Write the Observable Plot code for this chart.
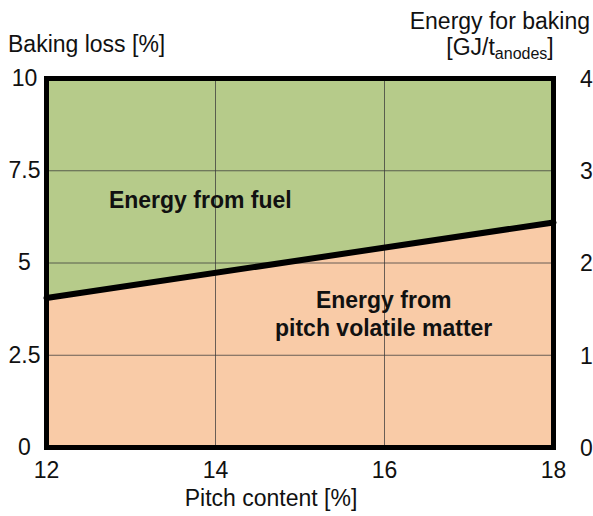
<!DOCTYPE html>
<html>
<head>
<meta charset="utf-8">
<script src="https://cdn.jsdelivr.net/npm/d3@7"></script>
<script src="https://cdn.jsdelivr.net/npm/@observablehq/plot@0.6"></script>
<style>
  html, body { margin: 0; padding: 0; background: #fff; }
  svg { display: block; }
</style>
</head>
<body>
<div id="chart"></div>
<script>
// Data
const pitchContent = [12, 18];            // x, Pitch content [%]
const bakingLoss = [4.05, 6.1];           // y, boundary line, Baking loss [%]
const xTicks = [12, 14, 16, 18];
const yTicks = [0, 2.5, 5, 7.5, 10];
const yTickLabels = ["0", "2.5", "5", "7.5", "10"];
const rightTicks = [0, 1, 2, 3, 4];       // Energy for baking [GJ/t_anodes]
const energyMax = 4;
const lossMax = 10;
const gridX = [14, 16];
const gridY = [2.5, 5, 7.5];

const rows = pitchContent.map((x, i) => ({x, y: bakingLoss[i]}));
const rightRows = rightTicks.map(v => ({v, y: v * lossMax / energyMax}));

const font = "'Liberation Sans', Arial, sans-serif";
const green = "#b6cb8a";
const peach = "#f9cba7";
const fs = 23;

const svg = Plot.plot({
  width: 593,
  height: 516,
  marginLeft: 46,
  marginRight: 40,
  marginTop: 78,
  marginBottom: 69,
  style: {fontFamily: font, background: "#fff", overflow: "visible"},
  x: {domain: [12, 18]},
  y: {domain: [0, 10]},
  marks: [
    Plot.areaY(rows, {x: "x", y1: 0, y2: "y", fill: peach}),
    Plot.areaY(rows, {x: "x", y1: "y", y2: lossMax, fill: green}),
    Plot.ruleX(gridX, {stroke: "#3a3a3a", strokeOpacity: 0.75, strokeWidth: 1}),
    Plot.ruleY(gridY, {stroke: "#3a3a3a", strokeOpacity: 0.75, strokeWidth: 1}),
    Plot.line(rows, {x: "x", y: "y", stroke: "#000", strokeWidth: 6}),
    Plot.frame({stroke: "#000", strokeWidth: 5}),
    Plot.axisY({ticks: yTicks, tickSize: 0, tickFormat: (d) => yTickLabels[yTicks.indexOf(d)],
      textAnchor: "middle", tickPadding: 22, fontSize: fs, fill: "#111", label: null}),
    Plot.text(rightRows, {x: 18, y: "y", text: d => String(d.v), dx: 33, dy: 1,
      fontSize: fs, fill: "#111", textAnchor: "middle"}),
    Plot.axisX({ticks: xTicks, tickSize: 0, tickPadding: 14, tickFormat: d => String(d),
      fontSize: fs, fill: "#111", label: null}),
    Plot.text(["Energy from fuel"], {x: 13.82, y: 6.69, text: d => d, fontSize: fs,
      fontWeight: "bold", fill: "#111"}),
    Plot.text(["Energy from", "pitch volatile matter"], {x: 15.99, y: (d, i) => [3.98, 3.22][i],
      text: d => d, fontSize: fs, fontWeight: "bold", fill: "#111"})
  ]
});

const s = d3.select(svg);
s.append("text").attr("x", 8).attr("y", 52).attr("text-anchor", "start").attr("font-size", fs)
  .attr("fill", "#111").attr("font-family", font).text("Baking loss [%]");
s.append("text").attr("x", 590).attr("y", 29).attr("text-anchor", "end").attr("font-size", fs)
  .attr("fill", "#111").attr("font-family", font).text("Energy for baking");
const t = s.append("text").attr("x", 500).attr("y", 55).attr("text-anchor", "middle")
  .attr("font-size", fs).attr("fill", "#111").attr("font-family", font);
t.append("tspan").text("[GJ/t");
t.append("tspan").attr("font-size", 16).attr("dy", 4).text("anodes");
t.append("tspan").attr("dy", -4).text("]");
s.append("text").attr("x", 271).attr("y", 506).attr("text-anchor", "middle").attr("font-size", fs)
  .attr("fill", "#111").attr("font-family", font).text("Pitch content [%]");

document.getElementById("chart").appendChild(svg);
</script>
</body>
</html>
